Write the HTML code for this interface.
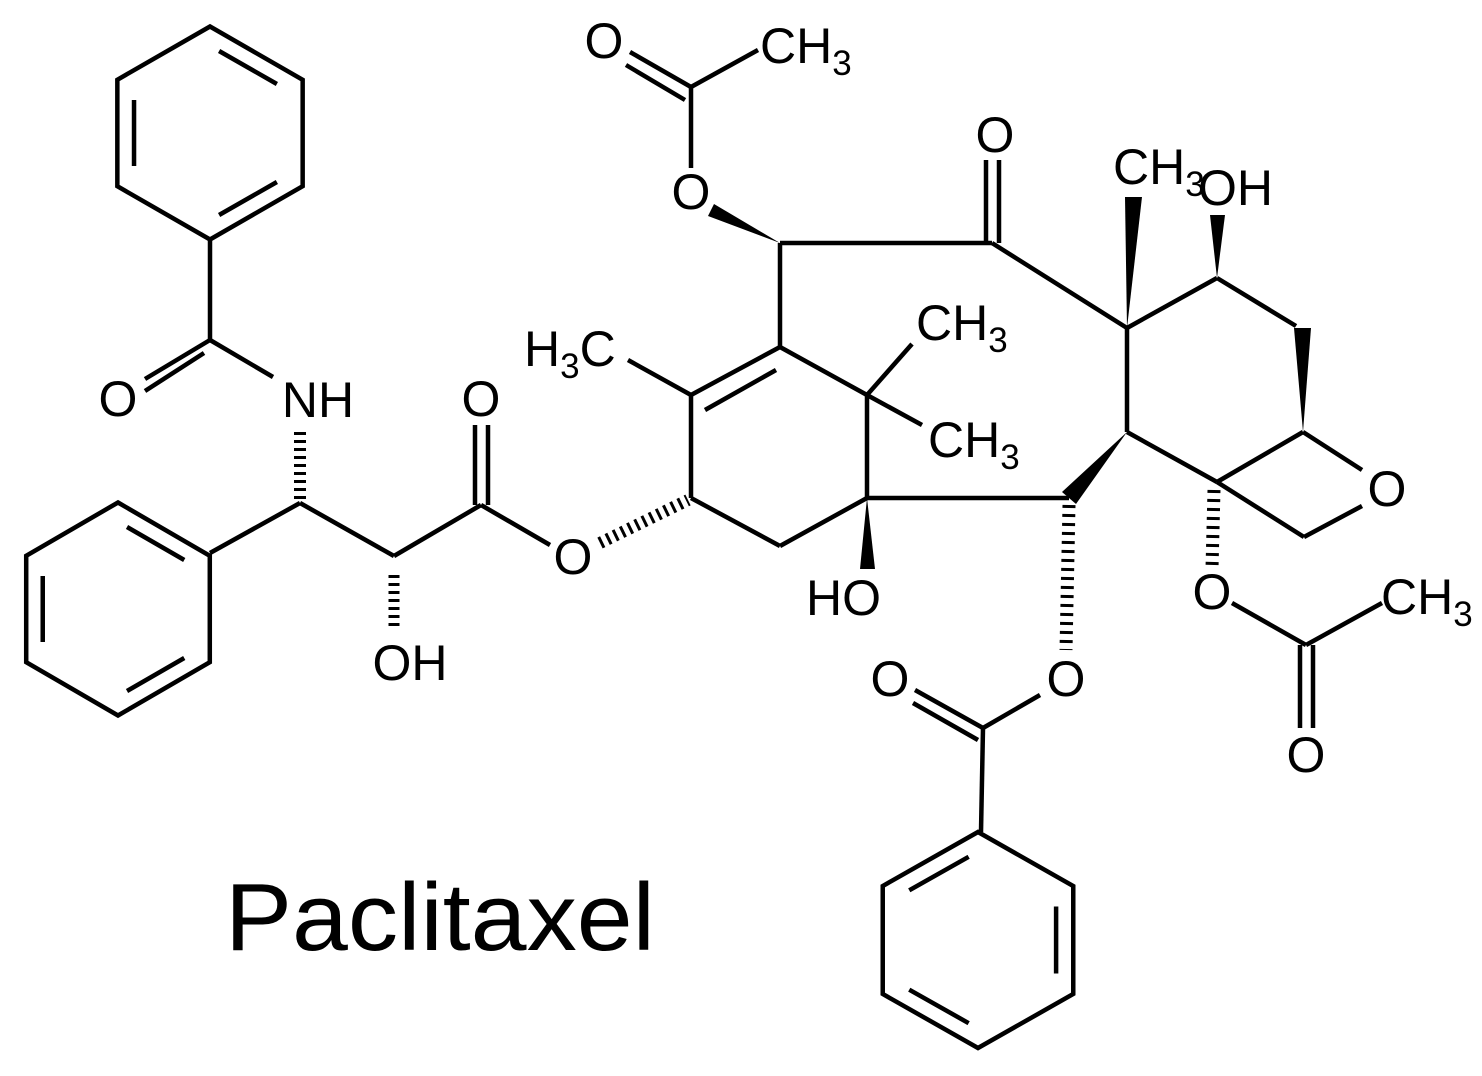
<!DOCTYPE html>
<html><head><meta charset="utf-8"><style>
html,body{margin:0;padding:0;background:#fff;}
svg{display:block;}
text{font-family:"Liberation Sans",Arial,sans-serif;fill:#000;}
</style></head><body>
<svg width="1482" height="1076" viewBox="0 0 1482 1076" xmlns="http://www.w3.org/2000/svg">
<defs>
<g id="bz">
<polygon points="0,-100 86.6,-50 86.6,50 0,100 -86.6,50 -86.6,-50" fill="none" stroke="#000" stroke-width="4.5" vector-effect="non-scaling-stroke" stroke-linejoin="miter"/>
<path d="M8.5,-77 L62.5,-46 M-71,-31 L-71,31 M62.5,46 L8.5,77" fill="none" stroke="#000" stroke-width="4.5" vector-effect="non-scaling-stroke"/>
</g>
</defs>
<g stroke="#000" stroke-width="4.5" fill="none" stroke-linecap="butt" stroke-linejoin="miter">
<use href="#bz" transform="translate(210,133) scale(1.07,1.065)"/>
<use href="#bz" transform="translate(118,609) scale(1.06,1.065)"/>
<use href="#bz" transform="translate(978,940) scale(-1.1,1.08)"/>

<line x1="210" y1="239" x2="210" y2="340"/>
<line x1="210" y1="340" x2="145" y2="379"/>
<line x1="204" y1="353" x2="145" y2="391"/>
<line x1="210" y1="340" x2="273" y2="377"/>
<line x1="300" y1="432" x2="300" y2="500" stroke-width="12" stroke-dasharray="3 5"/>
<line x1="210" y1="553" x2="300" y2="503"/>
<line x1="300" y1="503" x2="394" y2="556"/>
<line x1="394" y1="556" x2="481" y2="505"/>
<line x1="394" y1="575" x2="394" y2="630" stroke-width="11" stroke-dasharray="3 5"/>
<line x1="475" y1="425" x2="475" y2="505"/>
<line x1="488" y1="425" x2="488" y2="505"/>
<line x1="481" y1="505" x2="550" y2="545"/>
<line x1="600" y1="543" x2="688" y2="500" stroke-width="12" stroke-dasharray="3 5"/>

<line x1="691" y1="498" x2="691" y2="395"/>
<line x1="691" y1="395" x2="780" y2="347"/>
<line x1="705" y1="410" x2="776" y2="370"/>
<line x1="628" y1="360" x2="691" y2="395"/>
<line x1="691" y1="498" x2="780" y2="546"/>
<line x1="780" y1="546" x2="867" y2="498"/>
<line x1="780" y1="347" x2="780" y2="243"/>
<line x1="780" y1="347" x2="867" y2="395"/>
<line x1="867" y1="395" x2="867" y2="498"/>
<line x1="867" y1="395" x2="912" y2="344"/>
<line x1="867" y1="395" x2="922" y2="425"/>
<polygon points="867,498 860,569 875,569" fill="#000" stroke="none"/>

<polygon points="780,243 714,204 708,216" fill="#000" stroke="none"/>
<line x1="691" y1="168" x2="691" y2="87"/>
<line x1="691" y1="87" x2="630" y2="52"/>
<line x1="685" y1="100" x2="626" y2="65"/>
<line x1="691" y1="87" x2="758" y2="50"/>

<line x1="780" y1="243" x2="992" y2="243"/>
<line x1="986" y1="160" x2="986" y2="243"/>
<line x1="999" y1="160" x2="999" y2="243"/>
<line x1="992" y1="243" x2="1127" y2="328"/>
<polygon points="1127,328 1125,197 1142,197" fill="#000" stroke="none"/>
<line x1="1127" y1="328" x2="1217" y2="278"/>
<polygon points="1217,278 1210,215 1225,215" fill="#000" stroke="none"/>
<line x1="1217" y1="278" x2="1296" y2="326"/>
<polygon points="1294,328 1311,328 1303,432" fill="#000" stroke="none"/>
<line x1="1127" y1="328" x2="1127" y2="432"/>
<line x1="1303" y1="432" x2="1362" y2="470"/>
<line x1="1362" y1="506" x2="1304" y2="537"/>
<line x1="1304" y1="537" x2="1217" y2="482"/>
<line x1="1217" y1="482" x2="1303" y2="432"/>
<line x1="1127" y1="432" x2="1217" y2="482"/>
<polygon points="1127,432 1062,492 1076,504" fill="#000" stroke="none"/>
<line x1="1069" y1="498" x2="867" y2="498"/>

<line x1="1069" y1="505" x2="1066" y2="650" stroke-width="13" stroke-dasharray="3 6"/>
<line x1="1214" y1="490" x2="1212" y2="568" stroke-width="13" stroke-dasharray="3 6"/>

<line x1="1232" y1="603" x2="1306" y2="645"/>
<line x1="1306" y1="645" x2="1382" y2="603"/>
<line x1="1300" y1="645" x2="1300" y2="728"/>
<line x1="1313" y1="645" x2="1313" y2="728"/>

<line x1="1040" y1="695" x2="983" y2="728"/>
<line x1="983" y1="728" x2="915" y2="690"/>
<line x1="978" y1="740" x2="913" y2="703"/>
<line x1="983" y1="728" x2="981" y2="832"/>
</g>

<g font-size="50">
<text x="118" y="416" text-anchor="middle">O</text>
<text x="318" y="417" text-anchor="middle">NH</text>
<text x="481" y="416" text-anchor="middle">O</text>
<text x="410" y="680" text-anchor="middle">OH</text>
<text x="573" y="574" text-anchor="middle">O</text>
<text x="524" y="366">H<tspan font-size="35" dy="12">3</tspan><tspan dy="-12">C</tspan></text>
<text x="604" y="58" text-anchor="middle">O</text>
<text x="691" y="209" text-anchor="middle">O</text>
<text x="760" y="63">CH<tspan font-size="35" dy="12">3</tspan></text>
<text x="995" y="152" text-anchor="middle">O</text>
<text x="916" y="340">CH<tspan font-size="35" dy="12">3</tspan></text>
<text x="928" y="457">CH<tspan font-size="35" dy="12">3</tspan></text>
<text x="1113" y="184">CH<tspan font-size="35" dy="12">3</tspan></text>
<text x="1198" y="205">OH</text>
<text x="1387" y="506" text-anchor="middle">O</text>
<text x="806" y="615">HO</text>
<text x="1066" y="696" text-anchor="middle">O</text>
<text x="1212" y="609" text-anchor="middle">O</text>
<text x="1381" y="614">CH<tspan font-size="35" dy="12">3</tspan></text>
<text x="1306" y="772" text-anchor="middle">O</text>
<text x="890" y="696" text-anchor="middle">O</text>
</g>
<text x="225" y="950" font-size="96" textLength="430" lengthAdjust="spacingAndGlyphs">Paclitaxel</text>
</svg>
</body></html>
